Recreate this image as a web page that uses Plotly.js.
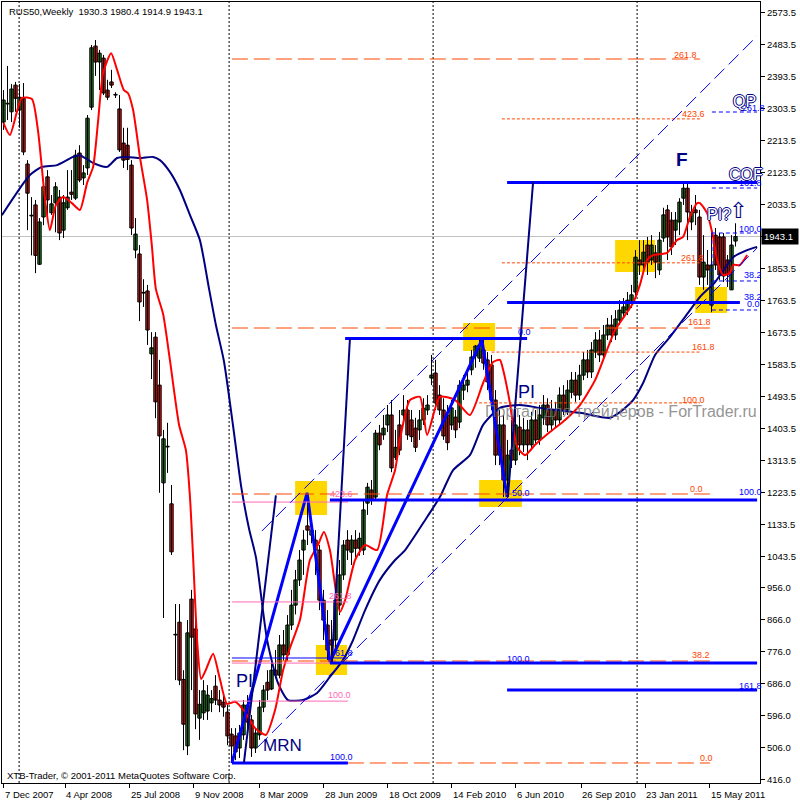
<!DOCTYPE html>
<html><head><meta charset="utf-8">
<script src="https://cdn.plot.ly/plotly-3.0.1.min.js"></script>
<style>html,body{margin:0;padding:0;background:#fff}#chart{width:800px;height:800px}</style>
</head><body><div id="chart"></div>
<script>
// ---------- DATA ----------
const opens = [
2265,2318,2294,2369,2299,2332,2147,2001,2032,1865,
1998,2111,2010,2038,2054,1961,2024,2068,2051,2178,
2108,2136,2307,2479,2434,2445,2355,2378,2341,2302,
2206,2200,2144,1905,1894,1784,1790,1613,1660,1525,
1250,1351,1191,822,858,697,510,923,839,588,
603,608,631,678,639,633,605,543,538,504,
541,625,583,504,541,619,689,670,723,709,
794,766,850,906,977,1061,1129,1103,1089,1061,
920,850,808,808,906,991,1089,1055,1089,1066,
1061,1193,1230,1210,1390,1385,1413,1441,1322,1413,
1441,1455,1427,1404,1399,1427,1455,1545,1559,1497,
1455,1441,1413,1435,1421,1511,1525,1568,1607,1601,
1624,1596,1582,1483,1328,1413,1258,1342,1314,1407,
1357,1399,1357,1427,1371,1433,1469,1413,1455,1427,
1497,1455,1505,1539,1497,1553,1596,1562,1618,1652,
1610,1666,1694,1666,1708,1728,1736,1759,1787,1877,
1863,1919,1877,1897,1849,1939,2018,1989,1961,1984,
2051,2079,1984,2018,1998,1829,1863,1750,1947,1942,
1942,1877,1793,1930.3];
const highs = [
2355,2423,2372,2378,2372,2375,2158,2054,2046,1995,
2102,2130,2060,2096,2074,2060,2130,2130,2187,2200,
2144,2285,2482,2496,2468,2454,2384,2412,2349,2341,
2249,2249,2158,1995,1919,1823,1807,1674,1674,1596,
1399,1419,1244,909,909,723,864,949,864,667,
695,681,667,709,667,661,625,560,560,569,
639,653,597,560,639,681,723,752,780,822,
836,878,949,1005,1061,1117,1222,1140,1117,1075,
949,892,864,949,1033,1089,1117,1103,1117,1110,
1202,1250,1258,1399,1413,1441,1469,1483,1399,1455,
1497,1483,1455,1433,1455,1488,1497,1610,1596,1525,
1488,1469,1483,1455,1539,1553,1562,1624,1638,1652,
1652,1618,1610,1511,1455,1441,1371,1427,1455,1441,
1433,1427,1450,1455,1469,1497,1488,1483,1478,1519,
1525,1539,1562,1562,1582,1618,1624,1646,1674,1680,
1694,1714,1722,1736,1764,1770,1787,1807,1905,1933,
1933,1942,1947,1919,1956,2024,2032,2012,2012,2051,
2094,2094,2032,2060,2018,1947,1905,1961,1967,1953,
1953,1891,1947,1980.4];
const lows = [
2243,2271,2265,2294,2249,2172,1961,1890,1840,1863,
1975,2004,2004,1955,1933,1939,2018,2046,2046,2096,
2088,2116,2299,2395,2355,2341,2327,2361,2333,2181,
2136,2130,1947,1882,1705,1745,1638,1542,1432,1222,
870,1278,1047,695,681,498,484,667,557,527,
583,583,605,625,605,592,512,462,470,476,
527,533,479,490,527,605,639,667,700,700,
750,750,836,880,960,991,1075,1080,991,892,
808,752,745,780,878,977,1033,1019,1040,1045,
1047,1160,1188,1202,1342,1371,1393,1280,1314,1328,
1413,1371,1365,1337,1371,1413,1441,1525,1455,1441,
1371,1342,1399,1376,1404,1483,1505,1553,1574,1590,
1568,1511,1455,1300,1300,1210,1216,1292,1300,1328,
1337,1314,1342,1360,1357,1413,1393,1399,1404,1413,
1441,1441,1488,1478,1483,1539,1545,1545,1601,1590,
1596,1652,1646,1652,1694,1714,1722,1742,1775,1835,
1849,1835,1863,1826,1835,1928,1877,1891,1919,1947,
2032,1933,1961,1975,1807,1793,1807,1730,1849,1821,
1815,1801,1793,1914.9];
const closes = [
2327,2316,2358,2332,2335,2181,2065,2003,1890,1984,
2083,2046,2035,2083,1953,2038,2054,2062,2172,2102,
2122,2276,2474,2434,2459,2347,2335,2369,2343,2187,
2158,2160,1967,1950,1759,1786,1680,1630,1478,1382,
1374,1353,1056,824,695,571,828,816,600,627,
665,653,643,639,625,619,538,510,493,546,
625,577,504,546,619,667,667,723,709,794,
766,850,906,977,1033,1089,1117,1117,1061,920,
864,780,794,920,991,1075,1061,1089,1066,1094,
1174,1238,1202,1390,1357,1404,1441,1292,1350,1342,
1455,1385,1380,1350,1427,1460,1469,1553,1475,1455,
1382,1363,1461,1399,1525,1525,1539,1604,1635,1638,
1587,1534,1483,1328,1413,1258,1328,1314,1413,1357,
1399,1357,1427,1371,1441,1469,1413,1455,1427,1497,
1455,1511,1539,1497,1553,1596,1562,1624,1652,1610,
1666,1694,1666,1711,1736,1745,1764,1779,1885,1863,
1899,1871,1919,1871,1933,2004,1942,1914,1989,2040,
2079,2012,2012,2010,1829,1871,1849,1863,1863,1835,
1832,1835,1919,1943.1];

// fast (red) moving average, read at bar positions
const fastMaIdx = [0,1.6,4.6,7.1,8.6,10.4,11.6,13.1,14.9,17.1,19.1,20.9,22.4,23.6,24.9,26.9,28.4,30.1,31.1,32.4,34.1,35.9,37.1,38.1,39.9,41.6,43.9,45.6,46.6,47.4,48.4,49.4,50.6,52.4,54.1,55.9,57.9,60.4,62.9,65.6,67.9,69.9,71.6,74.1,76.6,78.6,80.1,81.6,84.1,85.4,87.9,90.4,93.4,95.9,97.9,99.1,101.6,104.1,105.9,109.1,112.9,116.6,119.9,122.4,124.1,124.9,126.6,128.4,130.4,132.9,136.6,140.4,144.1,147.9,150.4,152.9,155.4,157.4,159.1,160.9,162.4,165.9,168.4,169.9,171.6,173.4,174.1,175.9,177.4,178.4,179.9,181.6,182.4,184.1,185.9];
const fastMa = [2262,2229,2333,2330,2243,2046,1961,2032,2054,2037,2018,2094,2139,2262,2403,2459,2412,2355,2347,2299,2167,2046,1916,1795,1725,1596,1413,1342,1213,1041,808,698,724,769,698,628,634,605,560,541,611,723,785,864,1033,1075,1112,1061,887,920,1033,1075,1061,1216,1286,1371,1483,1492,1385,1492,1483,1441,1531,1590,1596,1568,1475,1351,1328,1357,1393,1427,1469,1539,1610,1680,1722,1756,1807,1877,1891,1897,1933,1942,1998,2037,2037,2009,1942,1877,1835,1840,1863,1863,1891];
// slow (navy) moving average
const slowMaIdx = [-0.4,6.6,9.6,13.4,17.4,19.1,22.4,25.9,28.4,30.9,34.1,37.4,39.1,41.6,44.1,46.6,49.1,51.4,53.1,55.1,57.6,59.4,61.4,63.1,65.9,68.6,71.1,74.9,78.4,81.6,84.9,87.4,90.4,94.1,97.9,100.4,105.9,109.1,112.4,116.6,119.9,124.1,129.1,134.1,144.1,151.6,154.1,157.4,159.9,162.9,166.6,170.4,174.1,177.9,182.4,185.9,188.4];
const slowMa = [2003,2116,2139,2144,2167,2172,2150,2139,2164,2167,2164,2167,2158,2125,2074,2004,1933,1795,1694,1593,1393,1241,1120,1041,808,687,639,639,659,704,752,808,892,977,1033,1061,1154,1210,1286,1328,1413,1461,1469,1461,1447,1433,1449,1483,1531,1610,1660,1717,1773,1815,1885,1905,1914];

const xTickIdx = [0,15.4,31.6,47.6,63.9,80.1,96.1,112.1,128.1,144.4,160.4,176.6];
const xTickText = ["7 Dec 2007","4 Apr 2008","25 Jul 2008","9 Nov 2008","8 Mar 2009","28 Jun 2009","18 Oct 2009","14 Feb 2010","6 Jun 2010","26 Sep 2010","23 Jan 2011","15 May 2011"];
const yTickVals = [416,506,596,686,776,866,956,1043.5,1133.5,1223.5,1313.5,1403.5,1493.5,1583.5,1673.5,1763.5,1853.5,1943.5,2033.5,2123.5,2213.5,2303.5,2393.5,2483.5,2573.5];
const yTickText = ["416.0","506.0","596.0","686.0","776.0","866.0","956.0","1043.5","1133.5","1223.5","1313.5","1403.5","1493.5","1583.5","1673.5","1763.5","1853.5","","2033.5","2123.5","2213.5","2303.5","2393.5","2483.5","2573.5"];
const lastPrice = 1943.1;

// drawing objects (bar index, price)
const separators = [3.9,56.4,107.4,158.4];
const orangeLongLevels = [[57.1,174.1,2442.5],[57.1,176.6,1685.7],[57.1,176.6,1218.7],[57.1,176.6,748.8],[86.1,176.6,461.9]];
const orangeDotLevels = [[124.6,174.1,2274],[124.6,174.1,1869],[122,174.1,1618],[118.9,174.1,1475]];
const pinkLevels = [[57.1,86.1,1196],[57.1,86.1,915],[57.1,86.1,636],[57.1,82,743]];
const blueThinLevels = [[57.1,86.1,757.3]];
const blueThickLevels = [[57.1,86.1,461.9],[81.6,188.4,743.2],[81.6,188.4,1201.8],[85.4,130.9,1656.2],[125.9,188.4,2095.1],[125.9,184.1,1757.4],[125.9,188.4,667.3]];
const blueDashLevels = [[177.1,188.4,2293.4],[177.1,188.4,2079.6],[177.1,188.4,1953],[177.1,188.4,1818],[177.1,188.4,1736.4]];
const blueDashVertical = [[177.1,1953,1736.4]];
const channelLines = [[64.6,1114.6,188.4,2507.2],[63.6,507,188.4,1910.8]];
const zigzagIdx = [57.1,75.9,81.6,119.6,125.9];
const zigzagPrice = [462,1221.5,746,1652,1210];
const navyLines = [[82.1,746,86.6,1654.8],[126.1,1210,132.4,2096.5],[60.1,462,68.1,1215]];
const yellowBoxes = [[72.9,80.9,1159.6,1255.3],[78.1,85.9,709.5,793.9],[114.9,122.9,1621,1699.8],[118.9,129.6,1182.2,1258.1],[152.9,162.9,1843.3,1933.3],[172.9,180.9,1727.9,1801]];

// text labels: [text, left px, centre px]
const orangeLabels = [["261.8",672,55],["423.6",680,114],["261.8",679,258],["161.8",686,322],["161.8",690,347],["100.0",680,400],["0.0",688,489],["38.2",690,655],["0.0",698,758]];
const pinkLabels = [["423.6",328,494],["261.8",327,596],["100.0",326,695]];
const blueLabels = [["61.8",333,653],["100.0",328,757],["100.0",505,659],["50.0",510,493],["0.0",516,332],["100.0",737,492],["161.8",737,686],["261.8",740,108],["161.8",737,183],["100.0",737,229],["38.2",742,275],["38.2",742,297],["0.0",745,304]];
const navyTexts = [["PI",234,681,18,false],["MRN",261,745,17,false],["PI",516,392,18,false],["F",674,160,19,true]];
const outlineTexts = [["QP",731,102,16],["COF",727,175,16],["PI?",705,215,16]];

// ---------- LAYOUT HELPERS ----------
const W=800,H=800,ML=2,MR=40,MT=2,MB=17;
const PW=W-ML-MR, PH=H-MT-MB;
const px = x => (x-ML)/PW;
const py = y => (H-MB-y)/PH;
const FONT = 'Liberation Sans, Arial, sans-serif';
const barIdx = opens.map((_, i) => i);

// candle pieces built from the OHLC arrays
const wickX = [], wickY = [];
barIdx.forEach(i => { wickX.push(i, i, null); wickY.push(lows[i], highs[i], null); });
const bodyBase = barIdx.map(i => Math.min(opens[i], closes[i]));
const bodyLen = barIdx.map(i => Math.max(Math.abs(closes[i] - opens[i]), 2));
const bodyColor = barIdx.map(i => closes[i] >= opens[i] ? '#1E7B1E' : '#E01010');

const shapes = [];
yellowBoxes.forEach(b => shapes.push({type:'rect',xref:'x',yref:'y',x0:b[0],x1:b[1],y0:b[2],y1:b[3],fillcolor:'#FFD700',line:{width:0},layer:'below'}));
separators.forEach(s => shapes.push({type:'line',xref:'x',yref:'paper',x0:s,x1:s,y0:0,y1:1,line:{color:'#000',width:1,dash:'2px,2px'},layer:'below'}));
shapes.push({type:'line',xref:'paper',yref:'y',x0:0,x1:1,y0:lastPrice,y1:lastPrice,line:{color:'#C0C0C0',width:1},layer:'below'});
orangeLongLevels.forEach(l => shapes.push({type:'line',xref:'x',yref:'y',x0:l[0],x1:l[1],y0:l[2],y1:l[2],line:{color:'#FF4500',width:1,dash:'16px,6px'}}));
orangeDotLevels.forEach(l => shapes.push({type:'line',xref:'x',yref:'y',x0:l[0],x1:l[1],y0:l[2],y1:l[2],line:{color:'#FF4500',width:1,dash:'3px,2px'}}));
pinkLevels.forEach(l => shapes.push({type:'line',xref:'x',yref:'y',x0:l[0],x1:l[1],y0:l[2],y1:l[2],line:{color:'#FF69B4',width:1}}));
channelLines.forEach(c => shapes.push({type:'line',xref:'x',yref:'y',x0:c[0],y0:c[1],x1:c[2],y1:c[3],line:{color:'#0000FF',width:1,dash:'14px,6px'}}));
blueDashLevels.forEach(l => shapes.push({type:'line',xref:'x',yref:'y',x0:l[0],x1:l[1],y0:l[2],y1:l[2],line:{color:'#0000FF',width:1,dash:'4px,3px'}}));
blueDashVertical.forEach(v => shapes.push({type:'line',xref:'x',yref:'y',x0:v[0],x1:v[0],y0:v[1],y1:v[2],line:{color:'#0000FF',width:1,dash:'4px,3px'}}));
blueThinLevels.forEach(l => shapes.push({type:'line',xref:'x',yref:'y',x0:l[0],x1:l[1],y0:l[2],y1:l[2],line:{color:'#0000FF',width:1}}));
blueThickLevels.forEach(l => shapes.push({type:'line',xref:'x',yref:'y',x0:l[0],x1:l[1],y0:l[2],y1:l[2],line:{color:'#0000FF',width:3}}));
navyLines.forEach(n => shapes.push({type:'line',xref:'x',yref:'y',x0:n[0],y0:n[1],x1:n[2],y1:n[3],line:{color:'#000080',width:2}}));

const annotations = [];
const addLbl = (t,x,y,color,size,extra) => annotations.push(Object.assign({text:t,xref:'paper',yref:'paper',x:px(x),y:py(y),xanchor:'left',yanchor:'middle',showarrow:false,font:{family:FONT,size:size,color:color}},extra||{}));
orangeLabels.forEach(l => addLbl(l[0],l[1],l[2],'#FF4500',9));
pinkLabels.forEach(l => addLbl(l[0],l[1],l[2],'#FF69B4',9));
blueLabels.forEach(l => addLbl(l[0],l[1],l[2],'#0000FF',9));
navyTexts.forEach(l => addLbl(l[4]?'<b>'+l[0]+'</b>':l[0],l[1],l[2],'#000080',l[3]));
const sh = '1px 0 0 #000080, -1px 0 0 #000080, 0 1px 0 #000080, 0 -1px 0 #000080';
outlineTexts.forEach(l => annotations.push({text:l[0],xref:'paper',yref:'paper',x:px(l[1]),y:py(l[2]),xanchor:'left',yanchor:'middle',showarrow:false,font:{family:FONT,size:l[3],color:'#ffffff',shadow:sh}}));
addLbl('\u21E7',727,211,'#000080',22,{font:{family:'DejaVu Sans',size:22,color:'#000080'}});
addLbl('Портал для трейдеров - ForTrader.ru',483,412,'rgba(120,120,120,0.8)',16);
addLbl('RUS50,Weekly\u00a0\u00a01930.3 1980.4 1914.9 1943.1',7,11,'#000',9.5);
addLbl('XTB-Trader, © 2001-2011 MetaQuotes Software Corp.',5,775,'#000',9.5);
xTickIdx.forEach((v,k) => annotations.push({text:xTickText[k],xref:'x',yref:'paper',x:v,y:0,xanchor:'left',yanchor:'middle',yshift:-11,xshift:-1,showarrow:false,font:{family:FONT,size:9.5,color:'#000'}}));
annotations.push({text:lastPrice.toFixed(1),xref:'paper',yref:'y',x:1,y:lastPrice,xanchor:'left',yanchor:'middle',xshift:1,showarrow:false,bgcolor:'#000',borderpad:2,width:32,align:'left',font:{family:FONT,size:9.5,color:'#fff'}});

const data = [
 {type:'scatter',mode:'lines',x:wickX,y:wickY,line:{color:'#000',width:1},hoverinfo:'skip',showlegend:false,connectgaps:false},
 {type:'bar',x:barIdx,y:bodyLen,base:bodyBase,width:0.85,marker:{color:bodyColor,line:{color:'#000',width:1}},hoverinfo:'skip',showlegend:false},
 {type:'scatter',mode:'lines',x:slowMaIdx,y:slowMa,line:{color:'#000080',width:2,shape:'spline',smoothing:0.6},hoverinfo:'skip',showlegend:false},
 {type:'scatter',mode:'lines',x:fastMaIdx,y:fastMa,line:{color:'#FF0000',width:2,shape:'spline',smoothing:0.6},hoverinfo:'skip',showlegend:false},
 {type:'scatter',mode:'lines',x:zigzagIdx,y:zigzagPrice,line:{color:'#0000FF',width:3},hoverinfo:'skip',showlegend:false}
];

const layout = {
 width:W,height:H,margin:{l:ML,r:MR,t:MT,b:MB,pad:0},
 paper_bgcolor:'#fff',plot_bgcolor:'#fff',showlegend:false,barmode:'overlay',
 xaxis:{range:[-0.375,189.125],showgrid:false,zeroline:false,showline:true,linecolor:'#000',linewidth:1,mirror:true,
   ticks:'outside',ticklen:4,tickcolor:'#000',tickvals:xTickIdx,showticklabels:false,fixedrange:true},
 yaxis:{side:'right',range:[405.6,2602.9],showgrid:false,zeroline:false,showline:true,linecolor:'#000',linewidth:1,mirror:true,
   ticks:'outside',ticklen:4,tickcolor:'#000',tickvals:yTickVals,ticktext:yTickText,tickfont:{family:FONT,size:9.5,color:'#000'},fixedrange:true},
 shapes:shapes,annotations:annotations
};
Plotly.newPlot('chart',data,layout,{staticPlot:true});
</script></body></html>
